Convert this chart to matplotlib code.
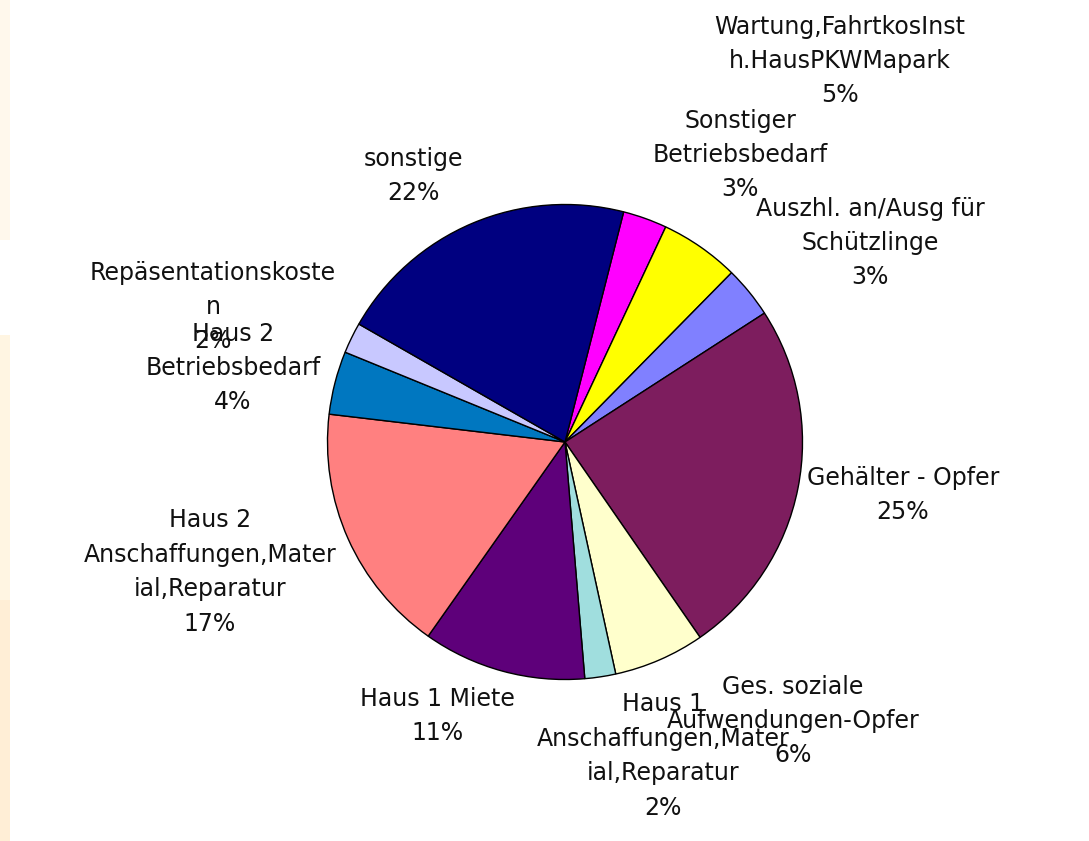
import matplotlib
matplotlib.use("Agg")
import matplotlib.pyplot as plt
from matplotlib.patches import Rectangle

# Slices in clockwise order, starting just right of 12 o'clock
categories = [
    "Sonstiger\nBetriebsbedarf",
    "Wartung,FahrtkosInst\nh.HausPKWMapark",
    "Auszhl. an/Ausg für\nSchützlinge",
    "Gehälter - Opfer",
    "Ges. soziale\nAufwendungen-Opfer",
    "Haus 1\nAnschaffungen,Mater\nial,Reparatur",
    "Haus 1 Miete",
    "Haus 2\nAnschaffungen,Mater\nial,Reparatur",
    "Haus 2\nBetriebsbedarf",
    "Repäsentationskoste\nn",
    "sonstige",
]
values = [3.0, 5.4, 3.5, 24.5, 6.2, 2.1, 11.1, 17.1, 4.3, 2.1, 20.7]
pct_labels = ["3%", "5%", "3%", "25%", "6%", "2%", "11%", "17%", "4%", "2%", "22%"]
colors = ["#FF00FF", "#FFFF00", "#8080FF", "#7D1D5E", "#FFFFCC", "#A0DEDE",
          "#5E007A", "#FF8080", "#0077C0", "#C8C8FF", "#000080"]

# label centres (pixel coords, y from top)
label_pos = [(740, 155), (840, 61), (870, 243), (903, 495), (793, 721),
             (663, 756), (437, 716), (210, 572), (233, 368), (213, 307), (413, 176)]

W, H = 1089, 841
fig = plt.figure(figsize=(W / 100, H / 100), dpi=100)
fig.patch.set_facecolor("white")
ax = fig.add_axes([0, 0, 1, 1])

cx, cy, r = 565, H - 442, 237.5
ax.pie(values, colors=colors, startangle=90 - 14.3, counterclock=False,
       center=(cx, cy), radius=r, frame=True,
       wedgeprops=dict(edgecolor="black", linewidth=1.0))
ax.set_xlim(0, W)
ax.set_ylim(0, H)
ax.set_aspect("equal")
ax.axis("off")

# faint background strip at the left edge
ax.add_patch(Rectangle((0, H - 240), 10, 240, color="#FFF8EC", lw=0))
ax.add_patch(Rectangle((0, H - 600), 10, 265, color="#FFF5E2", lw=0))
ax.add_patch(Rectangle((0, 0), 10, H - 600, color="#FFEED6", lw=0))

for cat, pct, (x, y) in zip(categories, pct_labels, label_pos):
    ax.text(x, H - y, cat + "\n" + pct, ha="center", va="center",
            fontsize=17, family=["DejaVu Sans"],
            color="#111111", linespacing=1.55)

fig.savefig("out.png", dpi=100, facecolor="white")
